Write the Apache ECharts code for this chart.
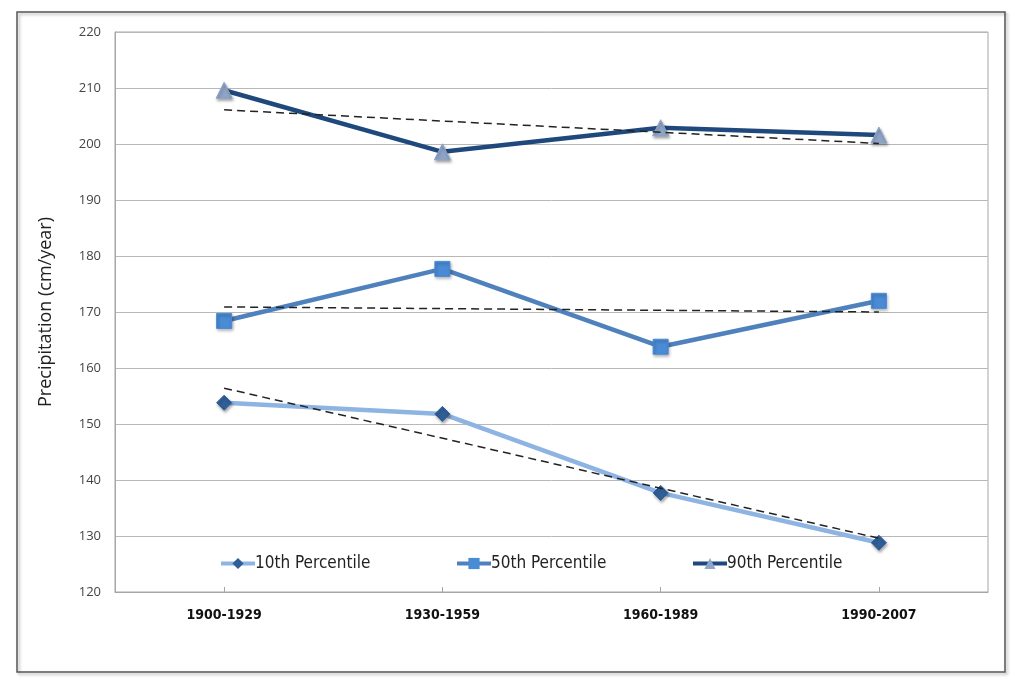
<!DOCTYPE html>
<html>
<head>
<meta charset="utf-8">
<script src="https://cdn.jsdelivr.net/npm/echarts@6/dist/echarts.min.js"></script>
<style>
  html, body { margin: 0; padding: 0; background: #fff; }
  #chart { width: 1024px; height: 694px; }
</style>
</head>
<body>
<div id="chart"></div>
<script>
var periods = ['1900-1929', '1930-1959', '1960-1989', '1990-2007'];

var p10 = [153.8, 151.8, 137.7, 128.8];
var p50 = [168.4, 177.7, 163.8, 172.0];
var p90 = [209.6, 198.6, 202.9, 201.6];

// trend lines, end points
var trend10 = [156.4, '-', '-', 129.6];
var trend50 = [170.9, '-', '-', 170.0];
var trend90 = [206.1, '-', '-', 200.1];

var legendNames = ['10th Percentile', '50th Percentile', '90th Percentile'];
var legendLeft = [214, 450, 686];

var narrow = "'DejaVu Sans Condensed', 'Liberation Sans Narrow', sans-serif";

function lineSerie(name, data, lineColor, symbol, markColor, size) {
    return {
        name: name,
        type: 'line',
        data: data,
        symbol: symbol,
        symbolSize: size,
        lineStyle: {color: lineColor, width: 4.5},
        itemStyle: {
            color: markColor,
            borderColor: markColor,
            shadowColor: 'rgba(0,0,0,0.35)',
            shadowBlur: 3,
            shadowOffsetX: 1,
            shadowOffsetY: 2
        },
        z: 3
    };
}

function trendSerie(data) {
    return {
        type: 'line',
        data: data,
        connectNulls: true,
        symbol: 'none',
        silent: true,
        lineStyle: {color: '#222', width: 1.5, type: [8, 5]},
        z: 4
    };
}

var legends = [];
for (var i = 0; i < legendNames.length; i++) {
    legends.push({
        bottom: 117,
        left: legendLeft[i],
        itemWidth: 34,
        itemHeight: 14,
        itemGap: 0,
        lineStyle: {width: 4},
        textStyle: {fontFamily: narrow, fontSize: 17, color: '#222', padding: [0, 0, 0, -5]},
        data: [legendNames[i]]
    });
}

var option = {
    animation: false,
    backgroundColor: '#fff',
    graphic: [{
        type: 'rect',
        shape: {x: 17, y: 12, width: 988, height: 660},
        style: {fill: 'none', stroke: '#555', lineWidth: 1.5,
            shadowColor: 'rgba(0,0,0,0.3)', shadowBlur: 3, shadowOffsetX: 2, shadowOffsetY: 2},
        silent: true
    }],
    grid: {
        left: 115, right: 36, top: 32, bottom: 102,
        show: true, borderColor: '#a6a6a6', borderWidth: 1
    },
    legend: legends,
    xAxis: {
        type: 'category',
        data: periods,
        axisLine: {lineStyle: {color: '#a6a6a6'}},
        axisTick: {show: true, inside: true, alignWithLabel: true, length: 5, lineStyle: {color: '#a6a6a6'}},
        axisLabel: {fontFamily: narrow, fontWeight: 'bold', fontSize: 14, color: '#111', margin: 16}
    },
    yAxis: {
        type: 'value',
        min: 120,
        max: 220,
        interval: 10,
        name: 'Precipitation (cm/year)',
        nameLocation: 'middle',
        nameGap: 60,
        nameTextStyle: {fontFamily: "'Open Sans', sans-serif", fontSize: 18, color: '#222'},
        axisLine: {show: true, lineStyle: {color: '#a6a6a6'}},
        axisTick: {show: false},
        axisLabel: {fontFamily: "'Open Sans', sans-serif", fontSize: 13, color: '#444', margin: 14},
        splitLine: {lineStyle: {color: '#b8b8b8'}}
    },
    series: [
        lineSerie('10th Percentile', p10, '#8db4e2', 'diamond', '#2f5f98', 15),
        lineSerie('50th Percentile', p50, '#4f81bd', 'rect', '#4a8bd6', 15),
        lineSerie('90th Percentile', p90, '#1f497d', 'triangle', '#8fa5c8', 16),
        trendSerie(trend10),
        trendSerie(trend50),
        trendSerie(trend90)
    ]
};

var chart = echarts.init(document.getElementById('chart'));
chart.setOption(option);
</script>
</body>
</html>
